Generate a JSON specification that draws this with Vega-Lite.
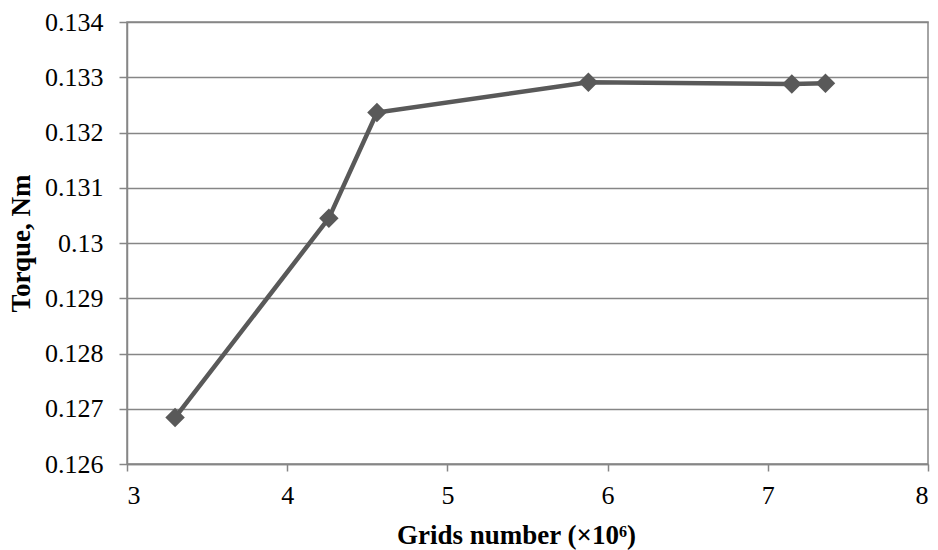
{
  "$schema": "https://vega.github.io/schema/vega-lite/v6.json",
  "autosize": "none",
  "width": 801,
  "height": 442,
  "padding": {"left": 127, "top": 22, "right": 10, "bottom": 86},
  "background": "white",
  "config": {
    "view": {"stroke": "#868686", "strokeWidth": 1.5},
    "font": "Liberation Serif"
  },
  "data": {
    "values": [
      {"grids": 3.30, "torque": 0.12684},
      {"grids": 4.26, "torque": 0.13045},
      {"grids": 4.56, "torque": 0.13236},
      {"grids": 5.88, "torque": 0.13291},
      {"grids": 7.15, "torque": 0.13288},
      {"grids": 7.36, "torque": 0.13289}
    ]
  },
  "encoding": {
    "x": {
      "field": "grids",
      "type": "quantitative",
      "scale": {"domain": [3, 8], "nice": false, "zero": false},
      "axis": {
        "title": "Grids number (×10⁶)",
        "values": [3, 4, 5, 6, 7, 8],
        "grid": false,
        "domainColor": "#868686",
        "domainWidth": 1.5,
        "tickColor": "#868686",
        "tickWidth": 1.5,
        "tickSize": 7,
        "labelPadding": 11,
        "labelFont": "Liberation Serif",
        "labelFontSize": 26,
        "labelColor": "black",
        "titleFont": "Liberation Serif",
        "titleFontSize": 27,
        "titleFontWeight": "bold",
        "titleColor": "black",
        "titlePadding": 14,
        "titleX": 389,
        "titleAlign": "center"
      }
    },
    "y": {
      "field": "torque",
      "type": "quantitative",
      "scale": {"domain": [0.126, 0.134], "nice": false, "zero": false},
      "axis": {
        "title": "Torque, Nm",
        "values": [0.126, 0.127, 0.128, 0.129, 0.13, 0.131, 0.132, 0.133, 0.134],
        "format": ".3~f",
        "grid": true,
        "gridColor": "#868686",
        "gridWidth": 1.5,
        "domainColor": "#868686",
        "domainWidth": 1.5,
        "tickColor": "#868686",
        "tickWidth": 1.5,
        "tickSize": 8,
        "labelPadding": 16,
        "labelFont": "Liberation Serif",
        "labelFontSize": 26,
        "labelColor": "black",
        "titleFont": "Liberation Serif",
        "titleFontSize": 27,
        "titleFontWeight": "bold",
        "titleColor": "black",
        "titlePadding": 9
      }
    }
  },
  "layer": [
    {
      "mark": {"type": "line", "color": "#595959", "strokeWidth": 4.5}
    },
    {
      "mark": {"type": "point", "shape": "diamond", "filled": true, "color": "#595959", "opacity": 1, "size": 380}
    }
  ]
}
